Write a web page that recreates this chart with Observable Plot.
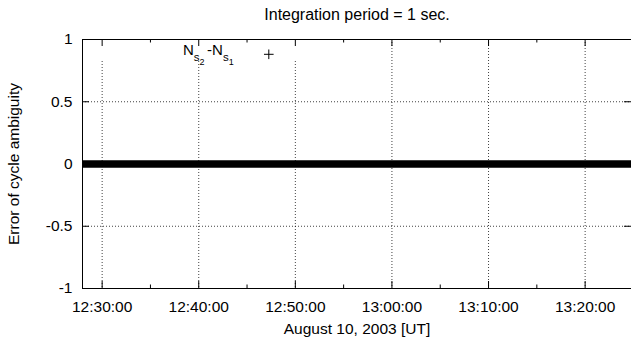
<!DOCTYPE html>
<html>
<head>
<meta charset="utf-8">
<script src="https://cdn.jsdelivr.net/npm/d3@7"></script>
<script src="https://cdn.jsdelivr.net/npm/@observablehq/plot@0.6"></script>
<style>
  html, body { margin: 0; padding: 0; background: #fff; }
  #chart svg { display: block; }
</style>
</head>
<body>
<div id="chart"></div>
<script>
// ---- data ----
const dateStr = "2003-08-10";
const titleText = "Integration period = 1 sec.";
const xLabel = "August 10, 2003 [UT]";
const yLabel = "Error of cycle ambiguity";
const keyLabel = "Ns2-Ns1";
const xMajorTickLabels = ["12:30:00", "12:40:00", "12:50:00", "13:00:00", "13:10:00", "13:20:00"];
const xMinorTickLabels = ["12:35:00", "12:45:00", "12:55:00", "13:05:00", "13:15:00"];
const yTickValues = [-1, -0.5, 0, 0.5, 1];
const yGridValues = [-0.5, 0.5];
// series: N_s2 - N_s1 error, zero over the whole interval
const seriesTime = ["12:27:58", "13:24:48"];
const seriesError = [0, 0];

// ---- build ----
const parse = d3.utcParse("%Y-%m-%d %H:%M:%S");
const toDate = t => parse(dateStr + " " + t);
const majorTicks = xMajorTickLabels.map(toDate);
const minorTicks = xMinorTickLabels.map(toDate);
const series = seriesTime.map((t, i) => ({time: toDate(t), err: seriesError[i]}));
const xDomain = [series[0].time, series[series.length - 1].time];

const W = 631, H = 342, mL = 82, mR = 0, mT = 39, mB = 54;
const plotW = W - mL - mR, plotH = H - mT - mB;
const keyCut = toDate("12:55:00");

const dotted = {stroke: "#000", strokeOpacity: 0.75, strokeDasharray: "1,2", strokeWidth: 1};

const chart = Plot.plot({
  width: W, height: H,
  marginLeft: mL, marginRight: mR, marginTop: mT, marginBottom: mB,
  style: {fontFamily: "'Liberation Sans', Arial, Helvetica, sans-serif", fontSize: "15.5px", color: "black", background: "white"},
  x: {type: "utc", domain: xDomain, axis: null},
  y: {domain: [-1, 1], axis: null},
  marks: [
    // grid
    Plot.ruleY(yGridValues, dotted),
    Plot.ruleX(majorTicks.filter(d => d < keyCut), {...dotted, insetTop: 22}),
    Plot.ruleX(majorTicks.filter(d => d >= keyCut), dotted),
    // data band
    Plot.line(series, {x: "time", y: "err", stroke: "black", strokeWidth: 7.5, strokeLinecap: "butt"}),
    // frame
    Plot.frame({stroke: "black", strokeWidth: 1}),
    // inward ticks
    Plot.ruleX(majorTicks, {stroke: "black", insetTop: plotH - 7}),
    Plot.ruleX(majorTicks, {stroke: "black", insetBottom: plotH - 7}),
    Plot.ruleX(minorTicks, {stroke: "black", insetTop: plotH - 3.5}),
    Plot.ruleX(minorTicks, {stroke: "black", insetBottom: plotH - 3.5}),
    Plot.ruleY(yTickValues, {stroke: "black", insetRight: plotW - 7}),
    Plot.ruleY(yTickValues, {stroke: "black", insetLeft: plotW - 7}),
    // tick labels
    Plot.axisX(majorTicks, {tickSize: 0, tickPadding: 12, tickFormat: d3.utcFormat("%H:%M:%S"), label: null, fill: "black"}),
    Plot.axisY(yTickValues, {tickSize: 0, tickPadding: 10, tickFormat: d => String(d), label: null, fill: "black"}),
    // title and axis labels
    Plot.text([titleText], {frameAnchor: "top", lineAnchor: "bottom", dy: -19.7, fontSize: 16, fill: "black"}),
    Plot.text([xLabel], {frameAnchor: "bottom", lineAnchor: "bottom", dy: 45, fill: "black"}),
    Plot.text([yLabel], {frameAnchor: "left", textAnchor: "middle", rotate: -90, dx: -68.5, fill: "black"}),
    // key
    Plot.text([keyLabel], {frameAnchor: "top-left", textAnchor: "start", lineAnchor: "bottom", dx: 100.5, dy: 15.3, fontSize: 15, fill: "black"}),
    Plot.dot([0], {frameAnchor: "top-left", dx: 186.3, dy: 14.8, symbol: "plus", r: 3.2, stroke: "black", strokeWidth: 1})
  ]
});

// enhanced text for the key label: N_{s_2}-N_{s_1}
d3.select(chart).selectAll("text").filter(function() { return this.textContent === keyLabel; }).each(function() {
  const t = d3.select(this);
  t.text(null);
  const parts = [
    {s: "N", fs: 15, dy: 0, dx: 0},
    {s: "s", fs: 11.5, dy: 6.5, dx: 0},
    {s: "2", fs: 9, dy: 3.5, dx: 0},
    {s: "-N", fs: 15, dy: -10, dx: 2.5},
    {s: "s", fs: 11.5, dy: 6.5, dx: 0},
    {s: "1", fs: 9, dy: 3.5, dx: 0}
  ];
  for (const p of parts) {
    const ts = t.append("tspan").style("font-size", p.fs + "px").text(p.s);
    if (p.dy) ts.attr("dy", p.dy);
    if (p.dx) ts.attr("dx", p.dx);
  }
});

document.getElementById("chart").appendChild(chart);
</script>
</body>
</html>
